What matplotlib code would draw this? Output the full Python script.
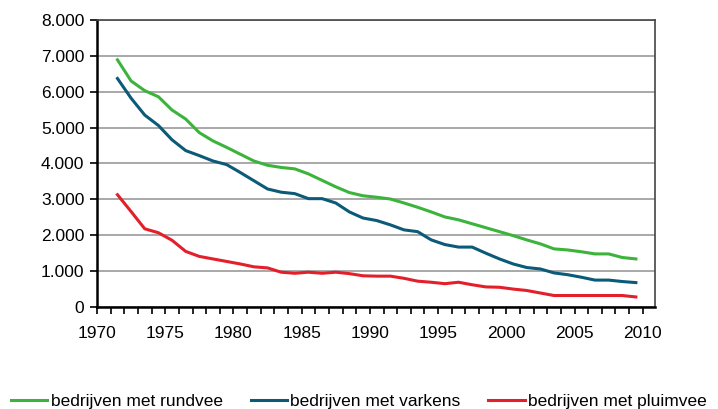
import numpy as np
import matplotlib
matplotlib.use('Agg')
import matplotlib.pyplot as plt
from matplotlib.ticker import MultipleLocator, FuncFormatter

years = list(range(1971, 2010))

rundvee = [6890, 6300, 6030, 5860, 5490, 5240, 4860, 4630, 4450, 4260,
           4070, 3950, 3890, 3850, 3710, 3530, 3350, 3190, 3100, 3060,
           3010, 2900, 2780, 2650, 2510, 2430, 2320, 2210, 2100, 1990,
           1870, 1760, 1620, 1590, 1540, 1480, 1480, 1380, 1340]

varkens = [6370, 5820, 5350, 5060, 4660, 4360, 4220, 4070, 3970, 3750,
           3520, 3290, 3200, 3160, 3020, 3020, 2900, 2650, 2480, 2410,
           2290, 2150, 2100, 1870, 1740, 1670, 1670, 1500, 1340, 1200,
           1100, 1060, 950, 900, 830, 750, 750, 710, 680]

pluimvee = [3130, 2660, 2180, 2070, 1860, 1550, 1410, 1340, 1270, 1200,
            1120, 1090, 970, 940, 970, 940, 970, 930, 870, 860,
            860, 800, 720, 690, 650, 690, 620, 560, 550, 500,
            460, 390, 320, 320, 320, 320, 320, 320, 280]

series = [
    ('bedrijven met rundvee', rundvee, '#3cb43c'),
    ('bedrijven met varkens', varkens, '#0b5a78'),
    ('bedrijven met pluimvee', pluimvee, '#e3202a'),
]

plt.rcParams['font.family'] = ['Liberation Sans', 'DejaVu Sans']

fig = plt.figure(figsize=(7.18, 4.09), dpi=100)
ax = fig.add_axes([97 / 718, 1 - 307 / 409, (655 - 97) / 718, (307 - 20) / 409])

# points sit in the middle of each year, as on the original axis
x = np.array(years) + 0.5
for label, values, color in series:
    ax.plot(x, values, color=color, linewidth=2.2, label=label, solid_joinstyle='round')

ax.set_xlim(1970, 2010.9)
ax.set_ylim(0, 8000)
ax.xaxis.set_major_locator(MultipleLocator(5))
ax.xaxis.set_minor_locator(MultipleLocator(1))
ax.yaxis.set_major_locator(MultipleLocator(1000))
ax.yaxis.set_major_formatter(FuncFormatter(lambda v, p: f'{int(v):,}'.replace(',', '.')))

ax.grid(axis='y', color='#999999', linewidth=1.2)
ax.set_axisbelow(True)

for side in ['left', 'bottom']:
    ax.spines[side].set_linewidth(1.8)
    ax.spines[side].set_color('black')
for side in ['top', 'right']:
    ax.spines[side].set_linewidth(1.2)
    ax.spines[side].set_color('#444444')

ax.tick_params(axis='both', which='major', direction='out', length=5, width=1.2,
               labelsize=12.5, colors='black')
ax.tick_params(axis='x', which='minor', direction='out', length=5, width=1.2)
ax.tick_params(axis='x', which='major', pad=9)
ax.tick_params(axis='y', which='major', pad=4)
ax.tick_params(axis='y', which='minor', left=False)

fig.legend(loc='center', bbox_to_anchor=(0.5, 1 - 401 / 409), ncol=3, frameon=False,
           fontsize=12.5, handlelength=2.1, handletextpad=0.2, columnspacing=1.6,
           borderaxespad=0)

fig.savefig('out.png', dpi=100)
